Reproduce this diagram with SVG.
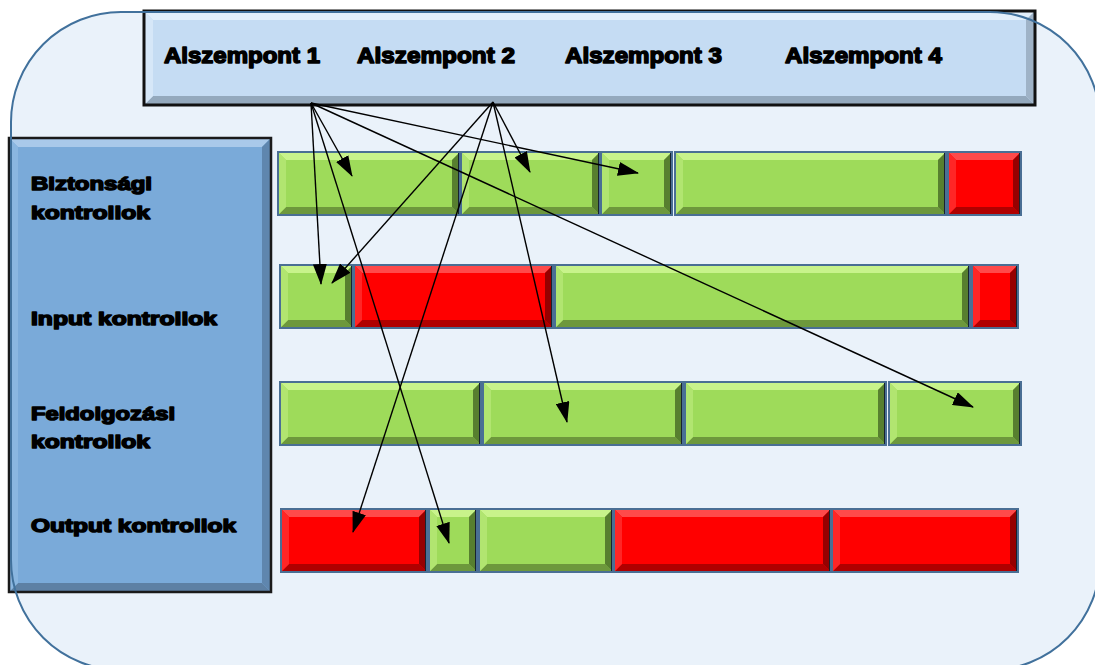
<svg xmlns="http://www.w3.org/2000/svg" xmlns:xlink="http://www.w3.org/1999/xlink" width="1095" height="665" viewBox="0 0 1095 665">
<style>
.lbl{font-family:"Liberation Sans",Arial,sans-serif;font-weight:bold;fill:#000;stroke:#000;stroke-width:1.5;stroke-linejoin:round}
.hd{font-size:22px}
.sd{font-size:19px}
.o{fill:none;stroke:#4a6f94;stroke-width:2}
.sh{stroke:#17232f;stroke-width:2}
.gr .f{fill:#9edb5a}.gr .t{fill:#c8f38b}.gr .b{fill:#6d983c}.gr .l{fill:#b1e570}.gr .r{fill:#577f2f}
.rd .f{fill:#ff0000}.rd .t{fill:#ff4a4a}.rd .b{fill:#b00000}.rd .l{fill:#ff2626}.rd .r{fill:#960000}
.conn line{stroke:#000;stroke-width:1.4;marker-end:url(#ah)}
</style>
<defs>
<marker id="ah" markerUnits="userSpaceOnUse" markerWidth="21" markerHeight="14" refX="20" refY="7" orient="auto"><path d="M0 0L21 7L0 14z" fill="#000"/></marker>
<path id="lb" d="M0 0l8 8v47l-8 8z"/>
</defs>
<rect x="11" y="12" width="1089" height="658" rx="110" ry="110" fill="#eaf2fa"/>
<g id="header">
<rect x="144" y="11" width="891" height="94" fill="#c5dcf3"/>
<path d="M144 11h891l-9 9H153z" fill="#e2effb"/>
<path d="M144 105h891l-9-9H153z" fill="#94a9bd"/>
<path d="M144 11l9 9v76l-9 9z" fill="#d6e7f8"/>
<path d="M1035 11l-9 9v76l9 9z" fill="#9fb3c7"/>
<rect x="144" y="11" width="891" height="94" fill="none" stroke="#111" stroke-width="3"/>
<text class="lbl hd" x="164" y="63" textLength="156" lengthAdjust="spacingAndGlyphs">Alszempont 1</text>
<text class="lbl hd" x="357" y="63" textLength="158" lengthAdjust="spacingAndGlyphs">Alszempont 2</text>
<text class="lbl hd" x="565" y="63" textLength="157" lengthAdjust="spacingAndGlyphs">Alszempont 3</text>
<text class="lbl hd" x="785" y="63" textLength="157" lengthAdjust="spacingAndGlyphs">Alszempont 4</text>
</g>
<g id="panel">
<rect x="9" y="138" width="262" height="454" fill="#7aaad9"/>
<path d="M9 138h262l-9 9H18z" fill="#a9c9ea"/>
<path d="M9 592h262l-9-9H18z" fill="#5d80a4"/>
<path d="M9 138l9 9v436l-9 9z" fill="#8ab6e0"/>
<path d="M271 138l-9 9v436l9 9z" fill="#5f86ae"/>
<rect x="9" y="138" width="262" height="454" fill="none" stroke="#1a1a1a" stroke-width="2.5"/>
<text class="lbl sd" x="31" y="190" textLength="121" lengthAdjust="spacingAndGlyphs">Biztonsági</text>
<text class="lbl sd" x="31" y="219" textLength="119" lengthAdjust="spacingAndGlyphs">kontrollok</text>
<text class="lbl sd" x="31" y="325" textLength="186" lengthAdjust="spacingAndGlyphs">Input kontrollok</text>
<text class="lbl sd" x="31" y="420" textLength="144" lengthAdjust="spacingAndGlyphs">Feldolgozási</text>
<text class="lbl sd" x="31" y="448" textLength="119" lengthAdjust="spacingAndGlyphs">kontrollok</text>
<text class="lbl sd" x="31" y="532" textLength="205" lengthAdjust="spacingAndGlyphs">Output kontrollok</text>
</g>
<rect x="11" y="12" width="1089" height="658" rx="110" ry="110" fill="none" stroke="#41719c" stroke-width="2"/>
<g id="row1">
<g class="gr" transform="translate(278,152)"><rect class="f" width="182" height="63"/><path class="t" d="M0 0h182l-8 8h-166z"/><path class="b" d="M0 63h182l-8-8h-166z"/><use class="l" xlink:href="#lb"/><path class="r" d="M182 0l-8 8v47l8 8z"/><path class="sh" d="M181 1v61"/><rect class="o" width="182" height="63"/></g>
<g class="gr" transform="translate(461,152)"><rect class="f" width="139" height="63"/><path class="t" d="M0 0h139l-8 8h-123z"/><path class="b" d="M0 63h139l-8-8h-123z"/><use class="l" xlink:href="#lb"/><path class="r" d="M139 0l-8 8v47l8 8z"/><path class="sh" d="M138 1v61"/><rect class="o" width="139" height="63"/></g>
<g class="gr" transform="translate(601,152)"><rect class="f" width="71" height="63"/><path class="t" d="M0 0h71l-8 8h-55z"/><path class="b" d="M0 63h71l-8-8h-55z"/><use class="l" xlink:href="#lb"/><path class="r" d="M71 0l-8 8v47l8 8z"/><path class="sh" d="M70 1v61"/><rect class="o" width="71" height="63"/></g>
<g class="gr" transform="translate(675,152)"><rect class="f" width="271" height="63"/><path class="t" d="M0 0h271l-8 8h-255z"/><path class="b" d="M0 63h271l-8-8h-255z"/><use class="l" xlink:href="#lb"/><path class="r" d="M271 0l-8 8v47l8 8z"/><path class="sh" d="M270 1v61"/><rect class="o" width="271" height="63"/></g>
<g class="rd" transform="translate(948,152)"><rect class="f" width="73" height="63"/><path class="t" d="M0 0h73l-8 8h-57z"/><path class="b" d="M0 63h73l-8-8h-57z"/><use class="l" xlink:href="#lb"/><path class="r" d="M73 0l-8 8v47l8 8z"/><path class="sh" d="M72 1v61"/><rect class="o" width="73" height="63"/></g>
</g>
<g id="row2">
<g class="gr" transform="translate(280,265)"><rect class="f" width="73" height="63"/><path class="t" d="M0 0h73l-8 8h-57z"/><path class="b" d="M0 63h73l-8-8h-57z"/><use class="l" xlink:href="#lb"/><path class="r" d="M73 0l-8 8v47l8 8z"/><path class="sh" d="M72 1v61"/><rect class="o" width="73" height="63"/></g>
<g class="rd" transform="translate(354,265)"><rect class="f" width="199" height="63"/><path class="t" d="M0 0h199l-8 8h-183z"/><path class="b" d="M0 63h199l-8-8h-183z"/><use class="l" xlink:href="#lb"/><path class="r" d="M199 0l-8 8v47l8 8z"/><path class="sh" d="M198 1v61"/><rect class="o" width="199" height="63"/></g>
<g class="gr" transform="translate(555,265)"><rect class="f" width="415" height="63"/><path class="t" d="M0 0h415l-8 8h-399z"/><path class="b" d="M0 63h415l-8-8h-399z"/><use class="l" xlink:href="#lb"/><path class="r" d="M415 0l-8 8v47l8 8z"/><path class="sh" d="M414 1v61"/><rect class="o" width="415" height="63"/></g>
<g class="rd" transform="translate(972,265)"><rect class="f" width="46" height="63"/><path class="t" d="M0 0h46l-8 8h-30z"/><path class="b" d="M0 63h46l-8-8h-30z"/><use class="l" xlink:href="#lb"/><path class="r" d="M46 0l-8 8v47l8 8z"/><path class="sh" d="M45 1v61"/><rect class="o" width="46" height="63"/></g>
</g>
<g id="row3">
<g class="gr" transform="translate(280,382)"><rect class="f" width="201" height="63"/><path class="t" d="M0 0h201l-8 8h-185z"/><path class="b" d="M0 63h201l-8-8h-185z"/><use class="l" xlink:href="#lb"/><path class="r" d="M201 0l-8 8v47l8 8z"/><path class="sh" d="M200 1v61"/><rect class="o" width="201" height="63"/></g>
<g class="gr" transform="translate(483,382)"><rect class="f" width="200" height="63"/><path class="t" d="M0 0h200l-8 8h-184z"/><path class="b" d="M0 63h200l-8-8h-184z"/><use class="l" xlink:href="#lb"/><path class="r" d="M200 0l-8 8v47l8 8z"/><path class="sh" d="M199 1v61"/><rect class="o" width="200" height="63"/></g>
<g class="gr" transform="translate(685,382)"><rect class="f" width="201" height="63"/><path class="t" d="M0 0h201l-8 8h-185z"/><path class="b" d="M0 63h201l-8-8h-185z"/><use class="l" xlink:href="#lb"/><path class="r" d="M201 0l-8 8v47l8 8z"/><path class="sh" d="M200 1v61"/><rect class="o" width="201" height="63"/></g>
<g class="gr" transform="translate(889,382)"><rect class="f" width="132" height="63"/><path class="t" d="M0 0h132l-8 8h-116z"/><path class="b" d="M0 63h132l-8-8h-116z"/><use class="l" xlink:href="#lb"/><path class="r" d="M132 0l-8 8v47l8 8z"/><path class="sh" d="M131 1v61"/><rect class="o" width="132" height="63"/></g>
</g>
<g id="row4">
<g class="rd" transform="translate(281,509)"><rect class="f" width="146" height="63"/><path class="t" d="M0 0h146l-8 8h-130z"/><path class="b" d="M0 63h146l-8-8h-130z"/><use class="l" xlink:href="#lb"/><path class="r" d="M146 0l-8 8v47l8 8z"/><path class="sh" d="M145 1v61"/><rect class="o" width="146" height="63"/></g>
<g class="gr" transform="translate(429,509)"><rect class="f" width="48" height="63"/><path class="t" d="M0 0h48l-8 8h-32z"/><path class="b" d="M0 63h48l-8-8h-32z"/><use class="l" xlink:href="#lb"/><path class="r" d="M48 0l-8 8v47l8 8z"/><path class="sh" d="M47 1v61"/><rect class="o" width="48" height="63"/></g>
<g class="gr" transform="translate(479,509)"><rect class="f" width="134" height="63"/><path class="t" d="M0 0h134l-8 8h-118z"/><path class="b" d="M0 63h134l-8-8h-118z"/><use class="l" xlink:href="#lb"/><path class="r" d="M134 0l-8 8v47l8 8z"/><path class="sh" d="M133 1v61"/><rect class="o" width="134" height="63"/></g>
<g class="rd" transform="translate(614,509)"><rect class="f" width="217" height="63"/><path class="t" d="M0 0h217l-8 8h-201z"/><path class="b" d="M0 63h217l-8-8h-201z"/><use class="l" xlink:href="#lb"/><path class="r" d="M217 0l-8 8v47l8 8z"/><path class="sh" d="M216 1v61"/><rect class="o" width="217" height="63"/></g>
<g class="rd" transform="translate(832,509)"><rect class="f" width="186" height="63"/><path class="t" d="M0 0h186l-8 8h-170z"/><path class="b" d="M0 63h186l-8-8h-170z"/><use class="l" xlink:href="#lb"/><path class="r" d="M186 0l-8 8v47l8 8z"/><path class="sh" d="M185 1v61"/><rect class="o" width="186" height="63"/></g>
</g>
<g id="connectors" class="conn">
<line x1="311" y1="103" x2="321" y2="284"/>
<line x1="311" y1="103" x2="352" y2="176"/>
<line x1="311" y1="103" x2="449" y2="543"/>
<line x1="311" y1="103" x2="638" y2="173"/>
<line x1="311" y1="103" x2="973" y2="407"/>
<line x1="493" y1="102" x2="332" y2="283"/>
<line x1="493" y1="102" x2="353" y2="532"/>
<line x1="493" y1="102" x2="530" y2="172"/>
<line x1="493" y1="102" x2="567" y2="422"/>
</g>
</svg>
